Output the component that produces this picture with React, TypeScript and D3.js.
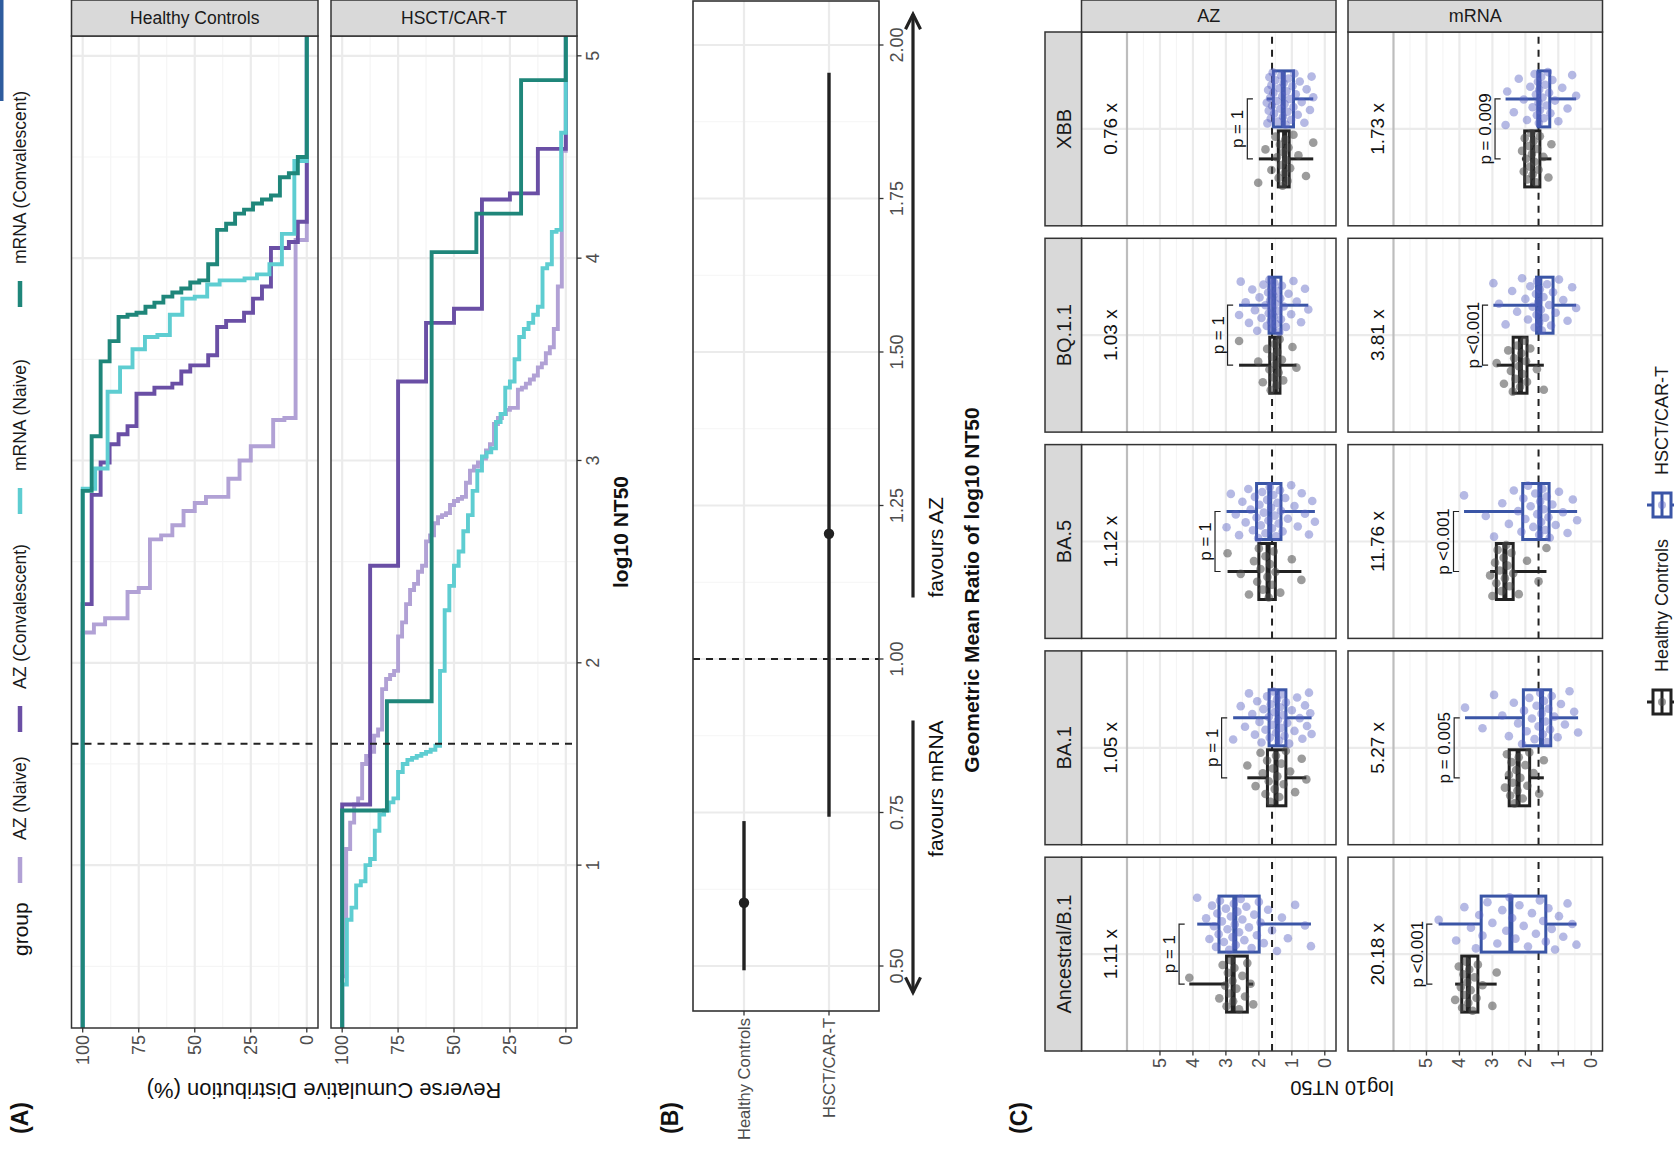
import React from 'react';
import * as d3 from 'd3';

const FONT = "'Liberation Sans', Arial, Helvetica, sans-serif";

// ---------------- Panel A data (log10 NT50 values per group) ----------------
const facetsA = ['Healthy Controls', 'HSCT/CAR-T'];
const groupsA = ['AZ (Naive)', 'AZ (Convalescent)', 'mRNA (Naive)', 'mRNA (Convalescent)'];
const colorsA = ['#b1a1d5', '#6a4fa5', '#5ecdd1', '#1f867a'];

const hcAzNaive = [2.15, 2.19, 2.22, 2.22, 2.35, 2.37, 2.61, 2.63, 2.68, 2.75, 2.79, 2.82, 2.82, 2.91, 3.0, 3.07, 3.07, 3.2, 3.21, 4.09];
const hcAzConv = [2.29, 2.83, 2.99, 3.08, 3.13, 3.17, 3.33, 3.33, 3.36, 3.36, 3.38, 3.44, 3.47, 3.47, 3.52, 3.66, 3.69, 3.69, 3.73, 3.8, 3.86, 4.05, 4.05, 4.08, 4.18];
const hcMrnaNaive = [2.86, 2.96, 3.34, 3.46, 3.55, 3.61, 3.62, 3.72, 3.8, 3.81, 3.87, 3.89, 3.89, 3.9, 3.92, 3.97, 4.12, 4.48];
const hcMrnaConv = [2.85, 3.12, 3.49, 3.59, 3.71, 3.72, 3.73, 3.76, 3.78, 3.81, 3.83, 3.85, 3.88, 3.89, 3.97, 4.14, 4.17, 4.22, 4.24, 4.27, 4.29, 4.31, 4.4, 4.42, 4.5];

const txAzNaive = [0.45, 1.08, 1.21, 1.3, 1.33, 1.5, 1.54, 1.56, 1.64, 1.67, 1.87, 1.92, 1.94, 1.96, 2.13, 2.2, 2.29, 2.36, 2.39, 2.45, 2.48, 2.6, 2.63, 2.69, 2.72, 2.73, 2.74, 2.78, 2.8, 2.81, 2.82, 2.89, 2.95, 2.97, 2.99, 3.01, 3.05, 3.08, 3.18, 3.21, 3.23, 3.25, 3.26, 3.26, 3.35, 3.36, 3.38, 3.4, 3.42, 3.46, 3.48, 3.53, 3.56, 3.65, 3.86, 4.53];
const txAzConv = [1.3, 2.48, 3.39, 3.68, 3.75, 4.29, 4.32, 4.54];
const txMrnaNaive = [0.41, 0.73, 0.79, 0.9, 0.92, 1.0, 1.03, 1.17, 1.25, 1.27, 1.31, 1.33, 1.46, 1.5, 1.52, 1.53, 1.54, 1.55, 1.56, 1.57, 1.59, 1.96, 2.26, 2.38, 2.48, 2.55, 2.65, 2.73, 2.85, 2.95, 3.02, 3.04, 3.06, 3.19, 3.23, 3.36, 3.39, 3.5, 3.61, 3.65, 3.68, 3.72, 3.76, 3.95, 3.97, 4.13, 4.14, 4.62];
const txMrnaConv = [1.27, 1.81, 4.03, 4.22, 4.88];

const thresholdLog = 1.6;
const ticksAx = [1, 2, 3, 4, 5];
const minorAx = [0.5, 1.5, 2.5, 3.5, 4.5];
const ticksAy = [0, 25, 50, 75, 100];
const minorAy = [12.5, 37.5, 62.5, 87.5];

// ---------------- Panel B data ----------------
const gmrCategories = ['Healthy Controls', 'HSCT/CAR-T'];
const gmrEstimate = [0.603, 1.204];
const gmrLower = [0.493, 0.743];
const gmrUpper = [0.736, 1.955];
const gmrTicks = [0.5, 0.75, 1.0, 1.25, 1.5, 1.75, 2.0];
const gmrMinor = [0.625, 0.875, 1.125, 1.375, 1.625, 1.875];
const arrowMrna = [0.9, 0.457];
const arrowAz = [1.1, 2.05];

// ---------------- Panel C data ----------------
const variants = ['Ancestral/B.1', 'BA.1', 'BA.5', 'BQ.1.1', 'XBB'];
const vaccines = ['AZ', 'mRNA'];
const cohorts = ['Healthy Controls', 'HSCT/CAR-T'];
const foldAZ = ['1.11 x', '1.05 x', '1.12 x', '1.03 x', '0.76 x'];
const foldMRNA = ['20.18 x', '5.27 x', '11.76 x', '3.81 x', '1.73 x'];
const pAZ = ['p = 1', 'p = 1', 'p = 1', 'p = 1', 'p = 1'];
const pMRNA = ['p <0.001', 'p = 0.005', 'p <0.001', 'p <0.001', 'p = 0.009'];
const bracketAZ = [4.42, 3.13, 3.33, 2.95, 2.35];
const bracketMRNA = [4.99, 4.16, 4.18, 3.3, 2.92];
const foldLevel = 6.5;
const upperLimit = 6;

// box stats: [lower whisker, q1, median, q3, upper whisker]
const boxHcAZ = [[2.17, 2.35, 2.78, 2.98, 4.11], [0.56, 1.18, 1.48, 1.74, 2.35], [0.71, 1.5, 1.72, 2.0, 2.95], [0.86, 1.36, 1.5, 1.67, 2.6], [0.35, 1.08, 1.22, 1.41, 2.0]];
const boxTxAZ = [[0.42, 1.99, 2.73, 3.21, 3.87], [0.4, 1.18, 1.44, 1.69, 2.78], [0.3, 1.33, 1.67, 2.07, 2.98], [0.5, 1.33, 1.55, 1.69, 2.6], [0.35, 0.95, 1.26, 1.56, 1.76]];
const boxHcMRNA = [[2.87, 3.44, 3.73, 3.93, 4.13], [1.44, 1.87, 2.22, 2.49, 2.62], [1.36, 2.37, 2.62, 2.88, 3.07], [1.44, 1.95, 2.15, 2.37, 2.87], [1.21, 1.56, 1.78, 2.02, 2.1]];
const boxTxMRNA = [[0.45, 1.38, 2.44, 3.34, 4.63], [0.4, 1.23, 1.51, 2.06, 3.83], [0.43, 1.28, 1.56, 2.08, 3.86], [0.46, 1.16, 1.56, 1.66, 2.97], [0.46, 1.26, 1.59, 1.61, 2.6]];

const ptsHcAZ = [
  [4.11, 3.2, 3.1, 3.02, 2.98, 2.94, 2.9, 2.85, 2.8, 2.78, 2.74, 2.68, 2.6, 2.5, 2.42, 2.35, 2.25, 2.17],
  [2.35, 2.1, 1.95, 1.88, 1.8, 1.75, 1.7, 1.65, 1.58, 1.52, 1.48, 1.44, 1.38, 1.32, 1.25, 1.18, 1.05, 0.9, 0.7, 0.56],
  [2.95, 2.55, 2.3, 2.15, 2.05, 2.0, 1.95, 1.88, 1.8, 1.74, 1.7, 1.66, 1.6, 1.55, 1.5, 1.35, 1.0, 0.71],
  [2.6, 2.02, 1.88, 1.75, 1.68, 1.64, 1.6, 1.56, 1.52, 1.5, 1.47, 1.44, 1.4, 1.37, 1.3, 1.26, 0.98, 0.86],
  [2.02, 1.8, 1.62, 1.5, 1.45, 1.4, 1.36, 1.32, 1.28, 1.25, 1.22, 1.2, 1.17, 1.13, 1.1, 1.05, 0.95, 0.8, 0.57, 0.35],
];
const ptsTxAZ = [
  [3.87, 3.6, 3.5, 3.42, 3.36, 3.3, 3.26, 3.22, 3.18, 3.12, 3.06, 3.0, 2.95, 2.9, 2.85, 2.8, 2.76, 2.73, 2.7, 2.65, 2.6, 2.55, 2.5, 2.44, 2.38, 2.3, 2.22, 2.14, 2.06, 2.0, 1.95, 1.85, 1.72, 1.6, 1.45, 1.3, 1.12, 0.9, 0.6, 0.42],
  [2.78, 2.55, 2.42, 2.3, 2.2, 2.12, 2.05, 1.98, 1.92, 1.86, 1.8, 1.75, 1.7, 1.67, 1.64, 1.6, 1.56, 1.52, 1.48, 1.45, 1.42, 1.39, 1.36, 1.33, 1.3, 1.26, 1.22, 1.18, 1.14, 1.08, 1.0, 0.92, 0.84, 0.76, 0.68, 0.6, 0.54, 0.48, 0.44, 0.4],
  [2.98, 2.85, 2.7, 2.6, 2.5, 2.4, 2.32, 2.25, 2.18, 2.12, 2.07, 2.02, 1.98, 1.94, 1.9, 1.85, 1.8, 1.75, 1.71, 1.67, 1.63, 1.6, 1.56, 1.52, 1.48, 1.44, 1.4, 1.36, 1.33, 1.28, 1.2, 1.12, 1.02, 0.92, 0.82, 0.7, 0.6, 0.48, 0.38, 0.3],
  [2.6, 2.55, 2.4, 2.3, 2.2, 2.12, 2.05, 1.98, 1.92, 1.86, 1.8, 1.76, 1.72, 1.7, 1.68, 1.66, 1.64, 1.62, 1.6, 1.58, 1.56, 1.55, 1.53, 1.5, 1.48, 1.45, 1.42, 1.38, 1.35, 1.33, 1.3, 1.25, 1.18, 1.1, 1.02, 0.95, 0.85, 0.72, 0.6, 0.5],
  [1.76, 1.74, 1.72, 1.7, 1.68, 1.66, 1.64, 1.62, 1.6, 1.58, 1.56, 1.54, 1.5, 1.46, 1.42, 1.38, 1.35, 1.32, 1.29, 1.27, 1.25, 1.22, 1.19, 1.16, 1.13, 1.1, 1.06, 1.02, 0.98, 0.95, 0.92, 0.88, 0.82, 0.76, 0.7, 0.62, 0.55, 0.45, 0.4, 0.35],
];
const ptsHcMRNA = [
  [4.13, 4.02, 3.96, 3.92, 3.88, 3.84, 3.8, 3.76, 3.73, 3.7, 3.66, 3.6, 3.54, 3.48, 3.44, 3.3, 3.0, 2.87],
  [2.62, 2.56, 2.5, 2.46, 2.42, 2.38, 2.33, 2.28, 2.24, 2.2, 2.15, 2.08, 2.0, 1.94, 1.88, 1.75, 1.58, 1.44],
  [3.07, 3.0, 2.92, 2.88, 2.84, 2.78, 2.72, 2.66, 2.62, 2.58, 2.54, 2.48, 2.42, 2.37, 2.2, 1.95, 1.6, 1.36],
  [2.87, 2.65, 2.52, 2.44, 2.38, 2.34, 2.3, 2.25, 2.2, 2.16, 2.12, 2.08, 2.03, 1.98, 1.95, 1.85, 1.65, 1.44],
  [2.1, 2.05, 2.02, 1.98, 1.94, 1.9, 1.86, 1.82, 1.8, 1.78, 1.75, 1.72, 1.68, 1.64, 1.6, 1.56, 1.45, 1.3, 1.21],
];
const ptsTxMRNA = [
  [4.63, 4.1, 3.85, 3.65, 3.5, 3.4, 3.3, 3.15, 3.0, 2.85, 2.7, 2.58, 2.48, 2.4, 2.3, 2.18, 2.05, 1.92, 1.8, 1.68, 1.56, 1.46, 1.38, 1.3, 1.2, 1.1, 0.98, 0.85, 0.72, 0.58, 0.45],
  [3.83, 3.3, 2.95, 2.7, 2.5, 2.35, 2.22, 2.1, 2.04, 1.96, 1.88, 1.8, 1.72, 1.66, 1.6, 1.55, 1.51, 1.47, 1.43, 1.39, 1.35, 1.3, 1.25, 1.2, 1.12, 1.02, 0.92, 0.8, 0.66, 0.52, 0.4],
  [3.86, 3.2, 2.95, 2.7, 2.5, 2.35, 2.22, 2.12, 2.06, 2.0, 1.92, 1.84, 1.76, 1.7, 1.64, 1.58, 1.55, 1.52, 1.48, 1.44, 1.4, 1.35, 1.3, 1.26, 1.18, 1.08, 0.98, 0.86, 0.72, 0.56, 0.43],
  [2.97, 2.8, 2.6, 2.4, 2.25, 2.1, 2.0, 1.92, 1.85, 1.78, 1.72, 1.68, 1.66, 1.64, 1.61, 1.58, 1.56, 1.53, 1.5, 1.45, 1.4, 1.34, 1.28, 1.22, 1.16, 1.08, 0.98, 0.85, 0.72, 0.58, 0.46],
  [2.6, 2.55, 2.35, 2.2, 2.05, 1.95, 1.85, 1.78, 1.72, 1.68, 1.65, 1.62, 1.6, 1.59, 1.58, 1.56, 1.52, 1.48, 1.44, 1.4, 1.36, 1.32, 1.28, 1.24, 1.18, 1.1, 1.0, 0.88, 0.72, 0.58, 0.46],
];
const ticksC = [0, 1, 2, 3, 4, 5];
const minorC = [0.5, 1.5, 2.5, 3.5, 4.5, 5.5];

// ---------------- helpers ----------------
const GRID = '#ebebeb';
const GRID_MINOR = '#f5f5f5';
const BORDER = '#333333';
const TICKTXT = '#4d4d4d';
const STRIP = '#d9d9d9';
const TICKFS = 18;

function stepPath(values: number[], xs: any, ys: any, x0: number, x1: number) {
  const v = [...values].sort((a, b) => a - b);
  const n = v.length;
  let d = `M${x0},${ys(100)}`;
  v.forEach((val, i) => {
    d += `H${xs(val)}V${ys(100 * (1 - (i + 1) / n))}`;
  });
  d += `H${x1}`;
  return d;
}

function jitter(i: number, seed: number) {
  const f = ((i + 1) * 0.6180339887 + seed * 0.37) % 1;
  return (f - 0.5) * 2;
}

export default function App() {
  // ---------- Panel A layout ----------
  const AX0 = 142, AX1 = 1134;
  const xA = d3.scaleLinear().domain([0.195, 5.098]).range([AX0, AX1]);
  const facetYA: [number, number][] = [[71.5, 318], [331, 577]];
  const yA = facetYA.map(([a, b]) => d3.scaleLinear().domain([-5, 105]).range([b, a]));
  const seriesA = [
    [hcAzNaive, hcAzConv, hcMrnaNaive, hcMrnaConv],
    [txAzNaive, txAzConv, txMrnaNaive, txMrnaConv],
  ];

  // ---------- Panel B layout ----------
  const BX0 = 159, BX1 = 1169, BY0 = 693, BY1 = 879;
  const xB = d3.scaleLinear().domain([0.5, 2.0]).range([204, 1125]);
  const yB = d3.scalePoint().domain(gmrCategories).range([744, 829]);

  // ---------- Panel C layout ----------
  const xC = d3.scaleBand().domain(variants).range([119, 1138]).paddingInner(0.0606).paddingOuter(0);
  const rowsC: [number, number][] = [[1081.5, 1336], [1348, 1602.5]];
  const yC = rowsC.map(([a, b]) => d3.scaleLinear().domain([-0.34, 7.38]).range([b, a]));
  const boxesC = [[boxHcAZ, boxTxAZ], [boxHcMRNA, boxTxMRNA]];
  const ptsC = [[ptsHcAZ, ptsTxAZ], [ptsHcMRNA, ptsTxMRNA]];
  const foldC = [foldAZ, foldMRNA];
  const pC = [pAZ, pMRNA];
  const brC = [bracketAZ, bracketMRNA];
  const boxCol = ['#222222', '#3a55a6'];
  const ptCol = ['#4a4a4a', '#5a64c4'];
  const ptOp = [0.55, 0.45];
  const bw = xC.bandwidth();
  const dodge = 30;
  const halfBox = 28;

  const els: any[] = [];

  // ====== Panel A ======
  facetYA.forEach(([ya, yb], fi) => {
    const ys = yA[fi];
    els.push(<rect key={`a-bg${fi}`} x={AX0} y={ya} width={AX1 - AX0} height={yb - ya} fill="#fff" />);
    minorAx.forEach((t) => els.push(<line key={`a-mx${fi}${t}`} x1={xA(t)} x2={xA(t)} y1={ya} y2={yb} stroke={GRID_MINOR} strokeWidth={1.2} />));
    minorAy.forEach((t) => els.push(<line key={`a-my${fi}${t}`} x1={AX0} x2={AX1} y1={ys(t)} y2={ys(t)} stroke={GRID_MINOR} strokeWidth={1.2} />));
    ticksAx.forEach((t) => els.push(<line key={`a-gx${fi}${t}`} x1={xA(t)} x2={xA(t)} y1={ya} y2={yb} stroke={GRID} strokeWidth={2.2} />));
    ticksAy.forEach((t) => els.push(<line key={`a-gy${fi}${t}`} x1={AX0} x2={AX1} y1={ys(t)} y2={ys(t)} stroke={GRID} strokeWidth={2.2} />));
    els.push(<clipPath key={`a-clip${fi}`} id={`clipA${fi}`}><rect x={AX0} y={ya} width={AX1 - AX0} height={yb - ya} /></clipPath>);
    els.push(
      <g key={`a-lines${fi}`} clipPath={`url(#clipA${fi})`}>
        {seriesA[fi].map((vals, gi) => (
          <path key={gi} d={stepPath(vals, xA, ys, AX0 - 5, AX1 + 5)} fill="none" stroke={colorsA[gi]} strokeWidth={3.9} strokeLinejoin="miter" />
        ))}
        <line x1={xA(thresholdLog)} x2={xA(thresholdLog)} y1={ya} y2={yb} stroke="#222" strokeWidth={2} strokeDasharray="7,6" />
      </g>
    );
    els.push(<rect key={`a-bd${fi}`} x={AX0} y={ya} width={AX1 - AX0} height={yb - ya} fill="none" stroke={BORDER} strokeWidth={1.5} />);
    // strip (right side)
    els.push(<rect key={`a-st${fi}`} x={AX1} y={ya} width={36} height={yb - ya} fill={STRIP} stroke={BORDER} strokeWidth={1.5} />);
    els.push(
      <text key={`a-stt${fi}`} x={AX1 + 18} y={(ya + yb) / 2} transform={`rotate(90, ${AX1 + 18}, ${(ya + yb) / 2})`} textAnchor="middle" dominantBaseline="central" fontSize={17.5} fill="#1a1a1a" fontFamily={FONT}>
        {facetsA[fi]}
      </text>
    );
    // y ticks
    ticksAy.forEach((t) => {
      els.push(<line key={`a-yt${fi}${t}`} x1={AX0 - 4.5} x2={AX0} y1={ys(t)} y2={ys(t)} stroke={BORDER} strokeWidth={1.3} />);
      els.push(<text key={`a-ytl${fi}${t}`} x={AX0 - 7} y={ys(t)} textAnchor="end" dominantBaseline="central" fontSize={TICKFS} fill={TICKTXT} fontFamily={FONT}>{t}</text>);
    });
  });
  // x axis for panel A (bottom of HSCT facet)
  ticksAx.forEach((t) => {
    els.push(<line key={`a-xt${t}`} x1={xA(t)} x2={xA(t)} y1={577} y2={581.5} stroke={BORDER} strokeWidth={1.3} />);
    els.push(<text key={`a-xtl${t}`} x={xA(t)} y={593} textAnchor="middle" dominantBaseline="central" fontSize={TICKFS} fill={TICKTXT} fontFamily={FONT}>{t}</text>);
  });
  els.push(<text key="a-xtitle" x={(AX0 + AX1) / 2} y={620} textAnchor="middle" dominantBaseline="central" fontSize={21} fontWeight="bold" fill="#111" fontFamily={FONT}>log10 NT50</text>);
  els.push(<text key="a-ytitle" x={80} y={324} transform={`rotate(-90, 80, 324)`} textAnchor="middle" dominantBaseline="central" fontSize={22} fill="#111" fontFamily={FONT}>Reverse Cumulative Distribution (%)</text>);
  // legend A
  els.push(<text key="a-lgt" x={214} y={20} dominantBaseline="central" fontSize={21} fill="#111" fontFamily={FONT}>group</text>);
  const legTextX = [330, 481, 699, 906];
  groupsA.forEach((g, gi) => {
    const kx = legTextX[gi] - 30;
    els.push(<line key={`a-lgk${gi}`} x1={kx - 13} x2={kx + 13} y1={20} y2={20} stroke={colorsA[gi]} strokeWidth={4.5} />);
    els.push(<text key={`a-lgl${gi}`} x={legTextX[gi]} y={20} dominantBaseline="central" fontSize={17.5} fill="#1a1a1a" fontFamily={FONT}>{g}</text>);
  });

  // ====== Panel B ======
  els.push(<rect key="b-bg" x={BX0} y={BY0} width={BX1 - BX0} height={BY1 - BY0} fill="#fff" />);
  gmrMinor.forEach((t) => els.push(<line key={`b-mx${t}`} x1={xB(t)} x2={xB(t)} y1={BY0} y2={BY1} stroke={GRID_MINOR} strokeWidth={1.2} />));
  gmrTicks.forEach((t) => els.push(<line key={`b-gx${t}`} x1={xB(t)} x2={xB(t)} y1={BY0} y2={BY1} stroke={GRID} strokeWidth={2.2} />));
  gmrCategories.forEach((c) => els.push(<line key={`b-gy${c}`} x1={BX0} x2={BX1} y1={yB(c)} y2={yB(c)} stroke={GRID} strokeWidth={2.2} />));
  els.push(<line key="b-ref" x1={xB(1)} x2={xB(1)} y1={BY0} y2={BY1} stroke="#222" strokeWidth={2} strokeDasharray="7,6" />);
  gmrCategories.forEach((c, i) => {
    els.push(<line key={`b-ci${i}`} x1={xB(gmrLower[i])} x2={xB(gmrUpper[i])} y1={yB(c)} y2={yB(c)} stroke="#222" strokeWidth={3.4} />);
    els.push(<circle key={`b-pt${i}`} cx={xB(gmrEstimate[i])} cy={yB(c)} r={5.2} fill="#222" />);
  });
  els.push(<rect key="b-bd" x={BX0} y={BY0} width={BX1 - BX0} height={BY1 - BY0} fill="none" stroke={BORDER} strokeWidth={1.6} />);
  gmrCategories.forEach((c) => {
    els.push(<line key={`b-yt${c}`} x1={BX0 - 4.5} x2={BX0} y1={yB(c)} y2={yB(c)} stroke={BORDER} strokeWidth={1.3} />);
    els.push(<text key={`b-ytl${c}`} x={BX0 - 7} y={yB(c)} textAnchor="end" dominantBaseline="central" fontSize={16.5} fill={TICKTXT} fontFamily={FONT}>{c}</text>);
  });
  gmrTicks.forEach((t) => {
    els.push(<line key={`b-xt${t}`} x1={xB(t)} x2={xB(t)} y1={BY1} y2={BY1 + 4.5} stroke={BORDER} strokeWidth={1.3} />);
    els.push(<text key={`b-xtl${t}`} x={xB(t)} y={BY1 + 18} textAnchor="middle" dominantBaseline="central" fontSize={TICKFS} fill={TICKTXT} fontFamily={FONT}>{t.toFixed(2)}</text>);
  });
  // arrows
  const AY = 913;
  const arrow = (a: number[], k: string) => {
    const xs0 = xB(a[0]), xs1 = xB(a[1]);
    const dir = xs1 > xs0 ? 1 : -1;
    const L = 15, hw = 7.5;
    return (
      <g key={k}>
        <line x1={xs0} x2={xs1} y1={AY} y2={AY} stroke="#222" strokeWidth={3.2} />
        <polyline points={`${xs1 - dir * L},${AY - hw} ${xs1},${AY} ${xs1 - dir * L},${AY + hw}`} fill="none" stroke="#222" strokeWidth={3.2} />
      </g>
    );
  };
  els.push(arrow(arrowMrna, 'b-arm'));
  els.push(arrow(arrowAz, 'b-araz'));
  els.push(<text key="b-fm" x={xB(arrowMrna[0])} y={935} textAnchor="end" dominantBaseline="central" fontSize={21} fill="#111" fontFamily={FONT}>favours mRNA</text>);
  els.push(<text key="b-fa" x={xB(arrowAz[0])} y={935} textAnchor="start" dominantBaseline="central" fontSize={21} fill="#111" fontFamily={FONT}>favours AZ</text>);
  els.push(<text key="b-title" x={580} y={971} textAnchor="middle" dominantBaseline="central" fontSize={21} fontWeight="bold" fill="#111" fontFamily={FONT}>Geometric Mean Ratio of log10 NT50</text>);

  // ====== Panel C ======
  rowsC.forEach(([ya, yb], ri) => {
    const ys = yC[ri];
    variants.forEach((vname, ci) => {
      const x0 = xC(vname) as number;
      const cx = x0 + bw / 2;
      els.push(<rect key={`c-bg${ri}${ci}`} x={x0} y={ya} width={bw} height={yb - ya} fill="#fff" />);
      minorC.forEach((t) => els.push(<line key={`c-m${ri}${ci}${t}`} x1={x0} x2={x0 + bw} y1={ys(t)} y2={ys(t)} stroke={GRID_MINOR} strokeWidth={1.2} />));
      ticksC.forEach((t) => els.push(<line key={`c-g${ri}${ci}${t}`} x1={x0} x2={x0 + bw} y1={ys(t)} y2={ys(t)} stroke={GRID} strokeWidth={2.2} />));
      els.push(<line key={`c-gx${ri}${ci}`} x1={cx} x2={cx} y1={ya} y2={yb} stroke={GRID} strokeWidth={2.2} />);
      els.push(<line key={`c-ul${ri}${ci}`} x1={x0} x2={x0 + bw} y1={ys(upperLimit)} y2={ys(upperLimit)} stroke="#bdbdbd" strokeWidth={2.2} />);
      els.push(<line key={`c-th${ri}${ci}`} x1={x0} x2={x0 + bw} y1={ys(thresholdLog)} y2={ys(thresholdLog)} stroke="#222" strokeWidth={2} strokeDasharray="7,6" />);
      // boxes
      [0, 1].forEach((gi) => {
        const [lo, q1, med, q3, hi] = boxesC[ri][gi][ci];
        const gx = cx + (gi === 0 ? -dodge : dodge);
        const col = boxCol[gi];
        els.push(
          <g key={`c-box${ri}${ci}${gi}`}>
            <line x1={gx} x2={gx} y1={ys(hi)} y2={ys(q3)} stroke={col} strokeWidth={3} />
            <line x1={gx} x2={gx} y1={ys(q1)} y2={ys(lo)} stroke={col} strokeWidth={3} />
            <rect x={gx - halfBox} y={ys(q3)} width={halfBox * 2} height={ys(q1) - ys(q3)} fill="#fff" stroke={col} strokeWidth={3} />
            <line x1={gx - halfBox} x2={gx + halfBox} y1={ys(med)} y2={ys(med)} stroke={col} strokeWidth={5} />
          </g>
        );
      });
      // points
      [0, 1].forEach((gi) => {
        const gx = cx + (gi === 0 ? -dodge : dodge);
        ptsC[ri][gi][ci].forEach((v, pi) => {
          els.push(<circle key={`c-pt${ri}${ci}${gi}${pi}`} cx={gx + jitter(pi, ci * 3 + ri * 7 + gi) * 27} cy={ys(v)} r={4.3} fill={ptCol[gi]} fillOpacity={ptOp[gi]} />);
        });
      });
      // bracket + p
      const by = ys(brC[ri][ci]);
      const tipY = ys(brC[ri][ci] - 0.17);
      els.push(<path key={`c-br${ri}${ci}`} d={`M${cx - dodge},${tipY}V${by}H${cx + dodge}V${tipY}`} fill="none" stroke="#222" strokeWidth={1.2} />);
      els.push(<text key={`c-p${ri}${ci}`} x={cx} y={by - 4} textAnchor="middle" fontSize={17} fill="#111" fontFamily={FONT}>{pC[ri][ci]}</text>);
      els.push(<text key={`c-f${ri}${ci}`} x={cx} y={ys(foldLevel)} textAnchor="middle" dominantBaseline="central" fontSize={19} fill="#111" fontFamily={FONT}>{foldC[ri][ci]}</text>);
      els.push(<rect key={`c-bd${ri}${ci}`} x={x0} y={ya} width={bw} height={yb - ya} fill="none" stroke={BORDER} strokeWidth={1.5} />);
    });
    // row strip (right)
    els.push(<rect key={`c-rs${ri}`} x={1138} y={ya} width={32} height={yb - ya} fill={STRIP} stroke={BORDER} strokeWidth={1.5} />);
    els.push(
      <text key={`c-rst${ri}`} x={1154} y={(ya + yb) / 2} transform={`rotate(90, 1154, ${(ya + yb) / 2})`} textAnchor="middle" dominantBaseline="central" fontSize={18} fill="#1a1a1a" fontFamily={FONT}>
        {vaccines[ri]}
      </text>
    );
    // y ticks
    ticksC.forEach((t) => {
      els.push(<line key={`c-yt${ri}${t}`} x1={114.5} x2={119} y1={ys(t)} y2={ys(t)} stroke={BORDER} strokeWidth={1.3} />);
      els.push(<text key={`c-ytl${ri}${t}`} x={112} y={ys(t)} textAnchor="end" dominantBaseline="central" fontSize={TICKFS} fill={TICKTXT} fontFamily={FONT}>{t}</text>);
    });
  });
  // column strips
  variants.forEach((vname) => {
    const x0 = xC(vname) as number;
    els.push(<rect key={`c-cs${vname}`} x={x0} y={1045} width={bw} height={36.5} fill={STRIP} stroke={BORDER} strokeWidth={1.5} />);
    els.push(<text key={`c-cst${vname}`} x={x0 + bw / 2} y={1063.5} textAnchor="middle" dominantBaseline="central" fontSize={20} fill="#1a1a1a" fontFamily={FONT}>{vname}</text>);
  });
  els.push(<text key="c-ytitle" x={82} y={1342} transform="rotate(-90, 82, 1342)" textAnchor="middle" dominantBaseline="central" fontSize={20} fill="#111" fontFamily={FONT}>log10 NT50</text>);
  // legend C
  const legCX = [468, 665];
  cohorts.forEach((c, gi) => {
    const kx = legCX[gi];
    const ky = 1662;
    els.push(
      <g key={`c-lg${gi}`}>
        <line x1={kx} x2={kx} y1={ky - 15} y2={ky + 15} stroke={boxCol[gi]} strokeWidth={3} />
        <rect x={kx - 12} y={ky - 9} width={24} height={18} fill="#fff" stroke={boxCol[gi]} strokeWidth={3} />
        <line x1={kx - 12} x2={kx + 12} y1={ky} y2={ky} stroke={boxCol[gi]} strokeWidth={3} />
        <circle cx={kx} cy={ky} r={4} fill={ptCol[gi]} fillOpacity={ptOp[gi]} />
        <text x={kx + 30} y={ky} dominantBaseline="central" fontSize={18} fill="#1a1a1a" fontFamily={FONT}>{c}</text>
      </g>
    );
  });

  // panel labels
  els.push(<text key="lab-a" x={36} y={20} dominantBaseline="central" fontSize={23} fontWeight="bold" fill="#111" fontFamily={FONT}>(A)</text>);
  els.push(<text key="lab-b" x={36} y={670} dominantBaseline="central" fontSize={23} fontWeight="bold" fill="#111" fontFamily={FONT}>(B)</text>);
  els.push(<text key="lab-c" x={36} y={1019} dominantBaseline="central" fontSize={23} fontWeight="bold" fill="#111" fontFamily={FONT}>(C)</text>);
  // top-left blue mark
  els.push(<rect key="mark" x={1069} y={0} width={101} height={3.5} fill="#2e5c9e" />);

  return (
    <svg width={1674} height={1170} style={{ position: 'absolute', left: 0, top: 0, background: '#fff' }} xmlns="http://www.w3.org/2000/svg">
      <rect x={0} y={0} width={1674} height={1170} fill="#fff" />
      <g transform="translate(0,1170) rotate(-90)">{els}</g>
    </svg>
  );
}
